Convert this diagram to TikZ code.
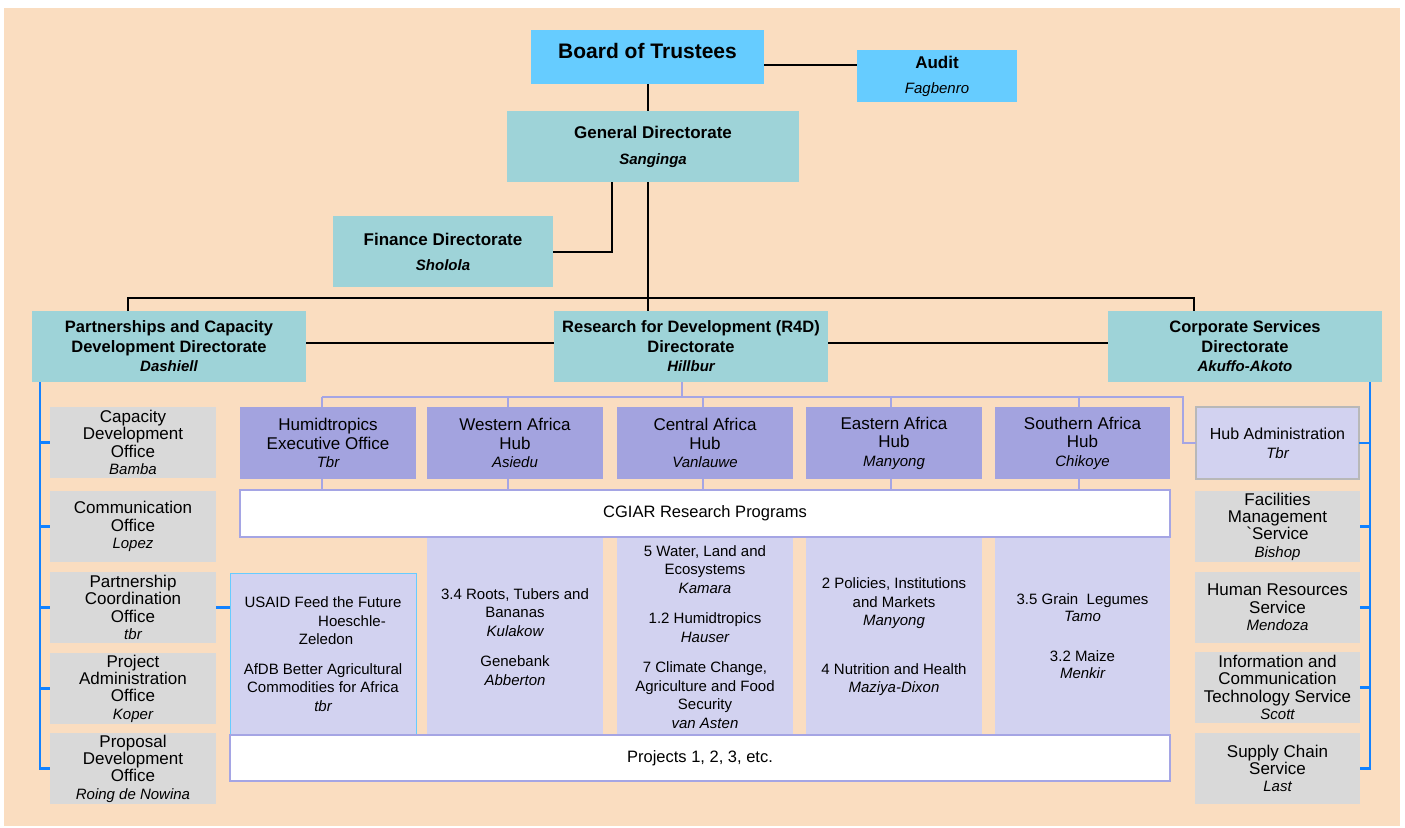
\documentclass[tikz,border=0pt]{standalone}
\usepackage{fontspec}
\setmainfont{Liberation Sans}
\newcommand\fsz[2]{\fontsize{#1}{#2}\selectfont}
\newcommand\nm[1]{{\itshape\fontsize{15}{15}\selectfont #1}}
\definecolor{cPeach}{RGB}{250,221,192}
\definecolor{cBlue}{RGB}{102,204,255}
\definecolor{cTeal}{RGB}{158,211,216}
\definecolor{cGray}{RGB}{217,217,217}
\definecolor{cHub}{RGB}{163,163,223}
\definecolor{cLight}{RGB}{210,210,240}
\definecolor{cLav}{RGB}{165,165,228}
\definecolor{cBlu}{RGB}{20,130,255}
\begin{document}
\begin{tikzpicture}[x=1pt,y=-1pt,
 base/.style={rectangle, inner sep=0pt, outer sep=0pt, align=center},
 bluebox/.style={base, fill=cBlue},
 dirbox/.style={base, fill=cTeal, font=\fsz{16.5}{19.5}\bfseries, minimum width=274pt, minimum height=71pt},
 graybox/.style={base, fill=cGray, font=\fsz{17}{17.3}, minimum width=166pt, minimum height=71pt},
 hubbox/.style={base, fill=cHub, font=\fsz{17}{18.5}, minimum width=176pt, minimum height=72pt},
 colbox/.style={base, fill=cLight, minimum width=176pt, minimum height=198pt},
 bandbox/.style={base, fill=white, draw=cLav, line width=2pt, font=\fsz{16.5}{19}},
 ptext/.style={base, font=\fsz{15}{18.5}},
 blk/.style={draw=black, line width=2pt},
 lav/.style={draw=cLav, line width=2pt},
 blu/.style={draw=cBlu, line width=2.5pt}
]
\useasboundingbox (0,0) rectangle (1405,827);
\fill[cPeach] (4,8) rectangle (1400,826);

% top level
\node[bluebox, minimum width=233pt, minimum height=54pt] (board) at (647.5,57) {};
\node[base, font=\fsz{21}{24}\bfseries] (boardtxt) at (647.5,51) {Board of Trustees};
\node[bluebox, minimum width=160pt, minimum height=52pt, font=\fsz{17}{19.5}\bfseries] (audit) at (937,76) {Audit\\[5.5pt]\nm{\mdseries Fagbenro}};
\node[base, fill=cTeal, minimum width=292pt, minimum height=71pt, font=\fsz{17}{19.5}\bfseries] (gd) at (653,146.5) {General Directorate\\[6.5pt]\nm{Sanginga}};
\node[base, fill=cTeal, minimum width=220pt, minimum height=71pt, font=\fsz{17}{19.5}\bfseries] (finance) at (443,251.5) {Finance Directorate\\[5.5pt]\nm{Sholola}};

% directorates
\node[dirbox] (pcd) at (169,346.5) {Partnerships and Capacity\\Development Directorate\\\nm{Dashiell}};
\node[dirbox] (r4d) at (691,346.5) {Research for Development (R4D)\\Directorate\\\nm{Hillbur}};
\node[dirbox] (csd) at (1245,346.5) {Corporate Services\\Directorate\\\nm{Akuffo-Akoto}};

% left offices
\node[graybox] (cap) at (133,442.5) {Capacity\\Development\\Office\\\nm{Bamba}};
\node[graybox] (comm) at (133,526.5) {Communication\\Office\\\nm{Lopez}};
\node[graybox] (partner) at (133,607.5) {Partnership\\Coordination\\Office\\\nm{tbr}};
\node[graybox] (proj) at (133,688.5) {Project\\Administration\\Office\\\nm{Koper}};
\node[graybox] (prop) at (133,768.5) {Proposal\\Development\\Office\\\nm{Roing de Nowina}};

% hubs
\node[hubbox] (humid) at (328,443) {Humidtropics\\Executive Office\\\nm{Tbr}};
\node[hubbox] (western) at (515,443) {Western Africa\\Hub\\\nm{Asiedu}};
\node[hubbox] (central) at (705,443) {Central Africa\\Hub\\\nm{Vanlauwe}};
\node[hubbox] (eastern) at (894,443) {Eastern Africa\\Hub\\\nm{Manyong}};
\node[hubbox, minimum width=175pt] (southern) at (1082.5,443) {Southern Africa\\Hub\\\nm{Chikoye}};
\node[base, fill=cLight, draw=black!28, line width=1.5pt, minimum width=163pt, minimum height=72pt, font=\fsz{16}{19}] (hubadmin) at (1277.5,443) {Hub Administration\\\nm{Tbr}};

% right services
\node[graybox, minimum width=165pt] (fac) at (1277.5,526.5) {Facilities\\Management\\\textasciigrave Service\\\nm{Bishop}};
\node[graybox, minimum width=165pt] (hr) at (1277.5,607.5) {Human Resources\\Service\\\nm{Mendoza}};
\node[graybox, minimum width=165pt] (ict) at (1277.5,687.5) {Information and\\Communication\\Technology Service\\\nm{Scott}};
\node[graybox, minimum width=165pt] (supply) at (1277.5,768.5) {Supply Chain\\Service\\\nm{Last}};

% program columns
\node[colbox] (wcol) at (515,636) {};
\node[colbox] (ccol) at (705,636) {};
\node[colbox] (ecol) at (894,636) {};
\node[colbox, minimum width=175pt] (scol) at (1082.5,636) {};
\node[base, fill=cLight, draw=cBlue, line width=1pt, minimum width=186pt, minimum height=162pt] (usaid) at (323,654) {};

% bands
\node[bandbox, minimum width=930pt, minimum height=47pt] (cgiar) at (705,513.5) {CGIAR Research Programs};
\node[bandbox, minimum width=940pt, minimum height=46pt] (projects) at (700,758) {Projects 1, 2, 3, etc.};

% program texts
\node[ptext] (w1) at (515,612.5) {3.4 Roots, Tubers and\\Bananas\\\nm{Kulakow}};
\node[ptext] (w2) at (515,670.5) {Genebank\\\nm{Abberton}};
\node[ptext] (c1) at (705,569.5) {5 Water, Land and\\Ecosystems\\\nm{Kamara}};
\node[ptext] (c2) at (705,627.5) {1.2 Humidtropics\\\nm{Hauser}};
\node[ptext] (c3) at (705,695) {7 Climate Change,\\Agriculture and Food\\Security\\\nm{van Asten}};
\node[ptext] (e1) at (894,603.5) {2 Policies, Institutions\\and Markets\\\nm{Manyong}};
\node[ptext] (e2) at (894,679.5) {4 Nutrition and Health\\\nm{Maziya-Dixon}};
\node[ptext, font=\fsz{15}{17}] (s1) at (1082.5,607.5) {3.5 Grain\ \ Legumes\\\nm{Tamo}};
\node[ptext, font=\fsz{15}{17}] (s2) at (1082.5,664.5) {3.2 Maize\\\nm{Menkir}};
\node[ptext] (u1) at (323,602) {USAID Feed the Future};
\node[ptext] (u2) at (352,621) {Hoeschle-};
\node[ptext] (u3) at (326,639) {Zeledon};
\node[ptext] (u4) at (323,687.5) {AfDB Better Agricultural\\Commodities for Africa\\\nm{tbr}};

% black connectors
\draw[blk] (board.south) -- (board.south |- gd.north);
\draw[blk] ([yshift=-8pt]board.east) -- ([yshift=-8pt]board.east -| audit.west);
\draw[blk] ([xshift=-41pt]gd.south) |- (finance.east);
\draw[blk] (board.south |- gd.south) -- (board.south |- r4d.north);
\coordinate (busL) at (128,298);
\coordinate (busR) at (1194,298);
\draw[blk] (busL |- pcd.north) -- (busL) -- (busR) -- (busR |- csd.north);
\draw[blk] ([yshift=3.5pt]pcd.east) -- ([yshift=3.5pt]pcd.east -| r4d.west);
\draw[blk] ([yshift=3.5pt]r4d.east) -- ([yshift=3.5pt]r4d.east -| csd.west);

% lavender connectors
\coordinate (lvR) at (1183,397);
\draw[lav] ([xshift=-9pt]r4d.south) -- ([xshift=-9pt]r4d.south |- lvR);
\draw[lav] ([xshift=-6pt]humid.north |- lvR) -- (lvR) |- (hubadmin.west);
\draw[lav] ([xshift=-6pt]humid.north) -- ([xshift=-6pt]humid.north |- lvR);
\draw[lav] ([xshift=-7pt]western.north) -- ([xshift=-7pt]western.north |- lvR);
\draw[lav] ([xshift=-2pt]central.north) -- ([xshift=-2pt]central.north |- lvR);
\draw[lav] ([xshift=-3pt]eastern.north) -- ([xshift=-3pt]eastern.north |- lvR);
\draw[lav] ([xshift=-4pt]southern.north) -- ([xshift=-4pt]southern.north |- lvR);
\draw[lav] ([xshift=-6pt]humid.south) -- ([xshift=-6pt]humid.south |- cgiar.north);
\draw[lav] ([xshift=-7pt]western.south) -- ([xshift=-7pt]western.south |- cgiar.north);
\draw[lav] ([xshift=-2pt]central.south) -- ([xshift=-2pt]central.south |- cgiar.north);
\draw[lav] ([xshift=-3pt]eastern.south) -- ([xshift=-3pt]eastern.south |- cgiar.north);
\draw[lav] ([xshift=-4pt]southern.south) -- ([xshift=-4pt]southern.south |- cgiar.north);

% blue connectors
\coordinate (lb) at (40,0);
\draw[blu] (pcd.south -| lb) |- (prop.west);
\draw[blu] (cap.west -| lb) -- (cap.west);
\draw[blu] (comm.west -| lb) -- (comm.west);
\draw[blu] (partner.west -| lb) -- (partner.west);
\draw[blu] (proj.west -| lb) -- (proj.west);
\draw[blu] (partner.east) -- (partner.east -| usaid.west);
\coordinate (rb) at (1370,0);
\draw[blu] (csd.south -| rb) |- (supply.east);
\draw[blu] (hubadmin.east) -- (hubadmin.east -| rb);
\draw[blu] (fac.east) -- (fac.east -| rb);
\draw[blu] (hr.east) -- (hr.east -| rb);
\draw[blu] (ict.east) -- (ict.east -| rb);
\end{tikzpicture}
\end{document}
